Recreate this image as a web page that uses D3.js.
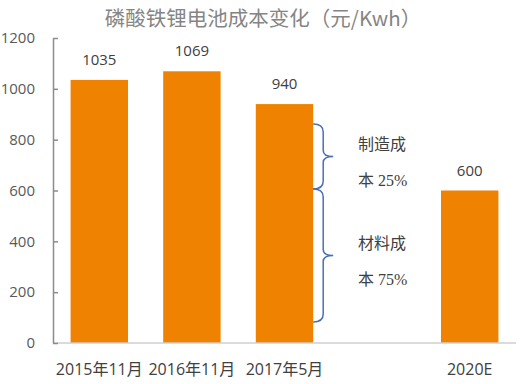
<!DOCTYPE html>
<html><head><meta charset="utf-8">
<script src="https://cdn.jsdelivr.net/npm/d3@7"></script>
<style>body{margin:0;background:#fff}</style>
</head><body>
<svg id="c" width="520" height="384"></svg>
<script>
const title = "磷酸铁锂电池成本变化（元/Kwh）";
const categories = ["2015年11月", "2016年11月", "2017年5月", "", "2020E"];
const values = [1035, 1069, 940, null, 600];
const yTicks = [0, 200, 400, 600, 800, 1000, 1200];
// braces next to the 2017 bar: [top value, bottom value]
const braceRanges = [[862, 606], [606, 83]];
const braceLabels = [["制造成", "本 25%"], ["材料成", "本 75%"]];

const svg = d3.select("#c");
const x = d3.scaleBand().domain(d3.range(categories.length)).range([53, 516]).paddingInner(0.38).paddingOuter(0.19);
const y = d3.scaleLinear().domain([0, 1200]).range([343, 38]);

svg.append("text").attr("x", 263).attr("y", 26).attr("text-anchor", "middle")
  .attr("font-family", "'Noto Sans CJK SC', 'Open Sans', sans-serif").attr("font-size", 20.5)
  .attr("fill", "#858585").text(title);

// bars
const data = values.map((v, i) => ({v, i})).filter(d => d.v != null);
svg.selectAll("rect.bar").data(data).enter().append("rect").attr("class", "bar")
  .attr("x", d => x(d.i)).attr("width", x.bandwidth())
  .attr("y", d => y(d.v)).attr("height", d => y(0) - y(d.v)).attr("fill", "#ef8200");

svg.selectAll("text.val").data(data).enter().append("text").attr("class", "val")
  .attr("x", d => x(d.i) + x.bandwidth() / 2).attr("y", d => y(d.v) - 15)
  .attr("text-anchor", "middle").attr("font-family", "'Open Sans', sans-serif")
  .attr("font-size", 15).attr("fill", "#404040").text(d => d.v);

// x axis baseline
svg.append("line").attr("x1", 53).attr("x2", 516).attr("y1", y(0)).attr("y2", y(0))
  .attr("stroke", "#cfcfcf").attr("stroke-width", 1.5);

// y axis
const yAxis = d3.axisLeft(y).tickValues(yTicks).tickFormat(d3.format("d"))
  .tickSizeInner(-5).tickSizeOuter(0).tickPadding(18);
const ya = svg.append("g").attr("transform", "translate(53,0)").call(yAxis);
ya.select(".domain").attr("stroke", "#8c8c8c").attr("stroke-width", 1.5);
ya.selectAll(".tick line").attr("stroke", "#8c8c8c").attr("stroke-width", 1.5);
ya.selectAll(".tick text").attr("font-family", "'Open Sans', sans-serif").attr("font-size", 15)
  .attr("fill", "#595959");

// category labels
svg.selectAll("text.cat").data(categories).enter().append("text").attr("class", "cat")
  .attr("x", (d, i) => x(i) + x.bandwidth() / 2).attr("y", 375)
  .attr("text-anchor", "middle").attr("font-family", "'Open Sans', 'Noto Sans CJK SC', sans-serif")
  .attr("font-size", 16).attr("fill", "#404040").text(d => d);

// braces
const bx = x(2) + x.bandwidth();
braceRanges.forEach((r, k) => {
  const t = y(r[0]), b = y(r[1]), m = (t + b) / 2;
  const p = `M${bx},${t} Q${bx + 10},${t} ${bx + 10},${t + 8} L${bx + 10},${m - 6} Q${bx + 10},${m} ${bx + 20},${m} Q${bx + 10},${m} ${bx + 10},${m + 6} L${bx + 10},${b - 8} Q${bx + 10},${b} ${bx},${b}`;
  svg.append("path").attr("d", p).attr("fill", "none").attr("stroke", "#4a6fb5").attr("stroke-width", 1.5);
  braceLabels[k].forEach((s, j) => {
    svg.append("text").attr("x", 358).attr("y", m - 6 + j * 36)
      .attr("font-family", "'Liberation Serif', 'Noto Sans CJK SC', serif").attr("font-size", 16)
      .attr("fill", "#404040").text(s);
  });
});
</script>
</body></html>
